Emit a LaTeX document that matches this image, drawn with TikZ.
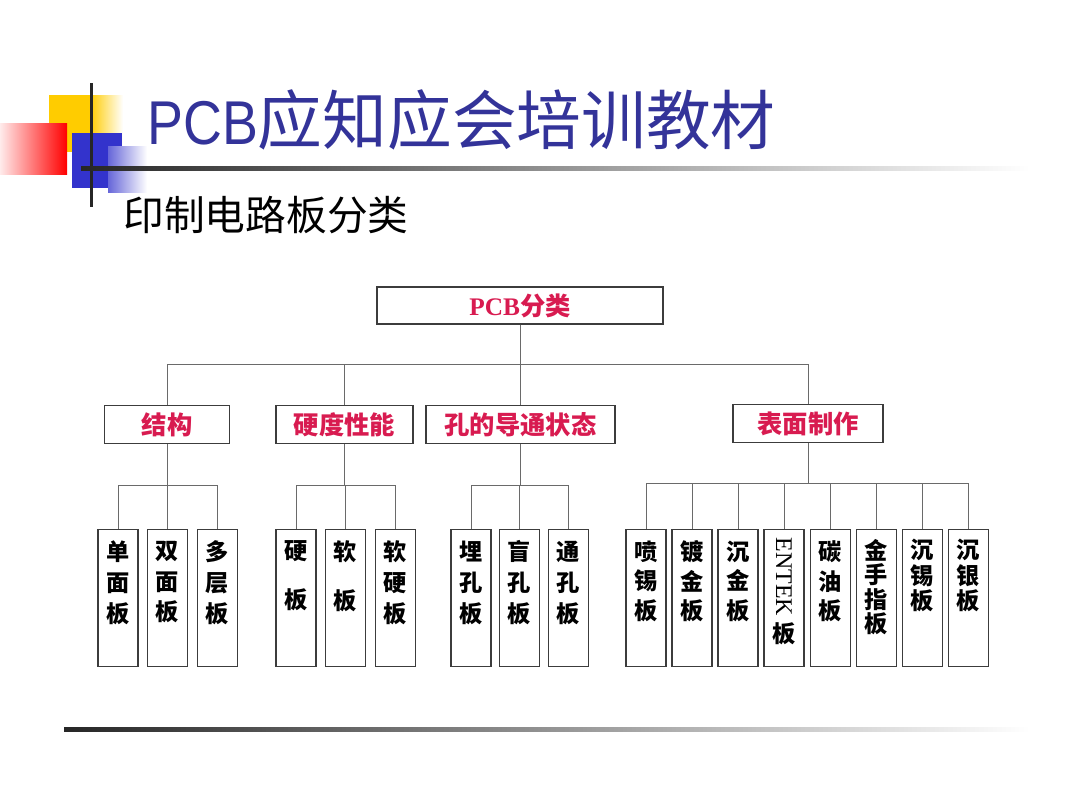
\documentclass[tikz,border=0pt]{standalone}
\usepackage{fontspec}
\usepackage{xcolor}
\usepackage{graphicx}
\usepackage{tikz}
\usetikzlibrary{
  positioning,
  calc
}
\setmainfont{Liberation Serif}
\setsansfont{Liberation Sans}
\newfontfamily\cjk{Noto Sans CJK SC}
\newfontfamily\titlesans[FakeStretch=0.87]{Liberation Sans}
\definecolor{pcbTitle}{HTML}{333399}
\definecolor{pcbRed}{HTML}{D81B50}
\definecolor{pcbLine}{HTML}{6A6A6A}
\definecolor{pcbBox}{HTML}{3C3C3C}
\definecolor{pcbYellow}{HTML}{FFCC00}
\definecolor{pcbBlue}{HTML}{3333CC}
\newcommand{\titlefont}{\fontsize{44pt}{48pt}\selectfont}
\newcommand{\titlecjk}{\cjk\fontsize{46pt}{50pt}\selectfont}
\newcommand{\subfont}{\cjk\fontsize{29pt}{32pt}\selectfont}
\newcommand{\catfont}{\cjk\bfseries\fontsize{18pt}{20pt}\selectfont}
\newcommand{\leaffont}{\cjk\bfseries\fontsize{16.5pt}{22pt}\selectfont}
\newcommand{\leafstack}[2][8pt]{\parbox[c][3.425cm][t]{1cm}{\centering\vspace*{#1}#2}}
\tikzset{
  pcbnode/.style={
    draw=pcbBox, line width=0.8pt, inner sep=0pt, text=pcbRed, font=\catfont
  },
  rootbox/.style={pcbnode, minimum width=7.15cm, minimum height=0.925cm},
  catbox/.style={pcbnode, minimum height=0.95cm},
  leafbox/.style={
    draw=pcbBox, line width=0.8pt, inner sep=0pt, anchor=north, font=\leaffont
  },
  branch/.style={draw=pcbLine, line width=0.7pt},
  heading/.style={anchor=base west, inner sep=0pt}
}

\begin{document}
\begin{tikzpicture}[x=0.025cm, y=-0.025cm, node distance=0.21cm]
  \useasboundingbox (0,0) rectangle (1080,810);
  % logo blocks and rules
  \fill[pcbYellow] (49,95) rectangle (90,152);
  \shade[left color=pcbYellow, right color=white] (90,95) rectangle (123,152);
  \shade[left color=red!8, right color=red] (0,123) rectangle (67,174);
  \fill[pcbBlue] (72,133) rectangle (122,188);
  \shade[left color=pcbBlue!75, right color=white] (108,146) rectangle (147,192);
  \fill[black!85] (89.5,83) rectangle (92.5,207);
  \shade[left color=black!85, right color=white] (81,166) rectangle (1030,170);
  \shade[left color=black!85, right color=white] (64,727) rectangle (1030,731);

  % headings
  \node[heading, text=pcbTitle] (title) at (147,144)
    {{\titlesans\titlefont PCB}{\titlecjk 应知应会培训教材}};
  \node[heading, font=\subfont] (subtitle) at (123,230) {印制电路板分类};

  % tree
  \node[rootbox] (pcb) at (520,305.5) {{\rmfamily PCB}分类};

  \node[catbox, minimum width=3.125cm] (jiegou) at (167,424.5) {结构};
  \node[catbox, minimum width=3.425cm] (yingdu) at (344.5,424.5) {硬度性能};
  \node[catbox, minimum width=4.725cm] (kongdt) at (520.5,424.5) {孔的导通状态};
  \node[catbox, minimum width=3.75cm] (biaomian) at (808,423.5) {表面制作};

  \node[leafbox] (danmian) at (118,529) {\leafstack{单\\面\\板}};
  \node[leafbox, right=of danmian] (shuangmian) {\leafstack{双\\面\\板}};
  \node[leafbox, right=of shuangmian] (duoceng) {\leafstack{多\\层\\板}};

  \node[leafbox] (yingban) at (296,529) {\leafstack{硬\\[12.7pt]板}};
  \node[leafbox, right=of yingban] (ruanban) {\leafstack{软\\[12.7pt]板}};
  \node[leafbox, right=of ruanban] (ruanying) {\leafstack{软\\硬\\板}};

  \node[leafbox] (maikong) at (471,529) {\leafstack{埋\\孔\\板}};
  \node[leafbox, right=0.185cm of maikong] (mangkong) {\leafstack{盲\\孔\\板}};
  \node[leafbox, right=0.185cm of mangkong] (tongkong) {\leafstack{通\\孔\\板}};

  \node[leafbox] (penxi) at (646,529) {\leafstack{喷\\[-1pt]锡\\[-1pt]板}};
  \node[leafbox, right=0.122cm of penxi] (dujin) {\leafstack{镀\\[-1pt]金\\[-1pt]板}};
  \node[leafbox, right=0.122cm of dujin] (chenjin) {\leafstack{沉\\[-1pt]金\\[-1pt]板}};
  \node[leafbox, right=0.122cm of chenjin] (entek)
    {\leafstack[5.7pt]{\rotatebox{-90}{\rmfamily\mdseries\fontsize{17pt}{17pt}\selectfont ENTEK}\\[4pt]板}};
  \node[leafbox, right=0.122cm of entek] (tanyou) {\leafstack{碳\\[-1pt]油\\[-1pt]板}};
  \node[leafbox, right=0.122cm of tanyou] (jinshou) {\leafstack[7pt]{金\\[-4.6pt]手\\[-4.6pt]指\\[-4.6pt]板}};
  \node[leafbox, right=0.122cm of jinshou] (chenxi) {\leafstack[7pt]{沉\\[-4pt]锡\\[-4pt]板}};
  \node[leafbox, right=0.122cm of chenxi] (chenyin) {\leafstack[7pt]{沉\\[-4pt]银\\[-4pt]板}};

  % connectors
  \draw[branch] (pcb.south) -- ++(0,40) -| (jiegou.north);
  \draw[branch] (pcb.south) -- ++(0,40) -| (yingdu.north);
  \draw[branch] (pcb.south) -- ++(0,40) -| (kongdt.north);
  \draw[branch] (pcb.south) -- ++(0,40) -| (biaomian.north);

  \draw[branch] (jiegou.south) -- ++(0,41) -| (danmian.north);
  \draw[branch] (jiegou.south) -- ++(0,41) -| (shuangmian.north);
  \draw[branch] (jiegou.south) -- ++(0,41) -| (duoceng.north);

  \draw[branch] (yingdu.south) -- ++(0,41) -| (yingban.north);
  \draw[branch] (yingdu.south) -- ++(0,41) -| (ruanban.north);
  \draw[branch] (yingdu.south) -- ++(0,41) -| (ruanying.north);

  \draw[branch] (kongdt.south) -- ++(0,41) -| (maikong.north);
  \draw[branch] (kongdt.south) -- ++(0,41) -| (mangkong.north);
  \draw[branch] (kongdt.south) -- ++(0,41) -| (tongkong.north);

  \draw[branch] (biaomian.south) -- ++(0,40) -| (penxi.north);
  \draw[branch] (biaomian.south) -- ++(0,40) -| (dujin.north);
  \draw[branch] (biaomian.south) -- ++(0,40) -| (chenjin.north);
  \draw[branch] (biaomian.south) -- ++(0,40) -| (entek.north);
  \draw[branch] (biaomian.south) -- ++(0,40) -| (tanyou.north);
  \draw[branch] (biaomian.south) -- ++(0,40) -| (jinshou.north);
  \draw[branch] (biaomian.south) -- ++(0,40) -| (chenxi.north);
  \draw[branch] (biaomian.south) -- ++(0,40) -| (chenyin.north);
\end{tikzpicture}
\end{document}
